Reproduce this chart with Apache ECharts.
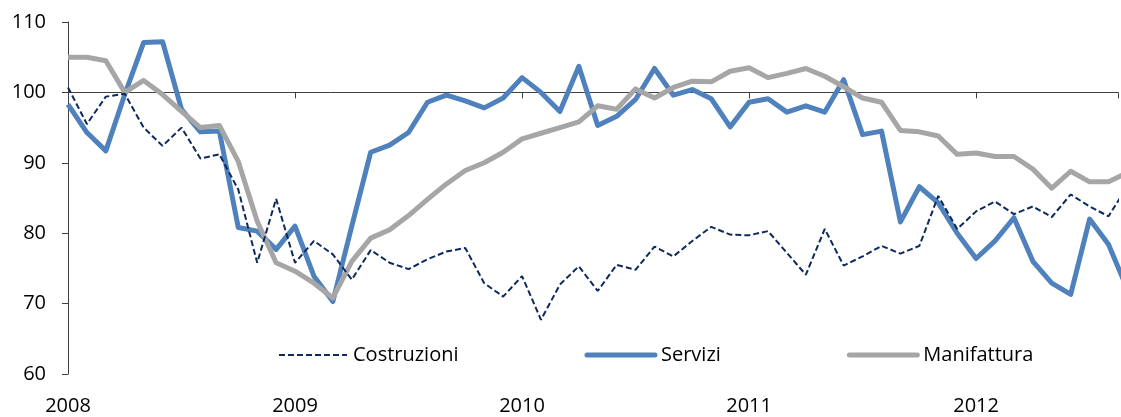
<!DOCTYPE html>
<html>
<head>
<meta charset="utf-8">
<script src="https://cdn.jsdelivr.net/npm/echarts@6/dist/echarts.min.js"></script>
<style>
  html, body { margin: 0; padding: 0; background: #fff; }
  #chart { width: 1121px; height: 417px; }
</style>
</head>
<body>
<div id="chart"></div>
<script>
// mesi da gen 2008 (indice 0) a set 2012 (indice 56)
const startYear = 2008;
const yearTicks = [0, 12, 24, 36, 48];

const costruzioni = [
  100.7, 95.5, 99.4, 99.8, 95.0, 92.4, 95.0, 90.6, 91.2, 86.2, 75.8, 84.9,
  75.8, 78.9, 77.0, 73.4, 77.6, 75.8, 74.9, 76.3, 77.4, 77.9, 72.9, 71.0,
  73.9, 67.7, 72.7, 75.3, 71.8, 75.5, 74.8, 78.1, 76.7, 78.9, 80.9, 79.8,
  79.7, 80.3, 77.2, 74.1, 80.6, 75.4, 76.7, 78.2, 77.1, 78.2, 85.3, 80.6,
  83.1, 84.5, 82.7, 83.8, 82.3, 85.5, 83.8, 82.4, 86.7
];
const servizi = [
  98.3, 94.3, 91.7, 99.7, 107.1, 107.2, 97.6, 94.4, 94.5, 80.8, 80.3, 77.7,
  81.0, 73.9, 70.3, 81.0, 91.5, 92.5, 94.3, 98.6, 99.6, 98.8, 97.8, 99.2,
  102.1, 100.0, 97.3, 103.7, 95.3, 96.6, 99.0, 103.4, 99.6, 100.4, 99.1, 95.1,
  98.6, 99.1, 97.2, 98.1, 97.2, 101.8, 94.0, 94.5, 81.6, 86.6, 84.3, 80.0,
  76.4, 78.9, 82.2, 76.0, 72.9, 71.3, 82.0, 78.4, 72.0
];
const manifattura = [
  105.0, 105.0, 104.5, 100.0, 101.7, 99.7, 97.3, 95.0, 95.3, 90.2, 81.7, 75.8,
  74.6, 72.9, 70.8, 76.0, 79.3, 80.5, 82.5, 84.8, 87.0, 88.9, 90.0, 91.5,
  93.4, 94.2, 95.0, 95.8, 98.1, 97.6, 100.5, 99.2, 100.7, 101.6, 101.5, 103.0,
  103.5, 102.1, 102.7, 103.4, 102.3, 100.8, 99.2, 98.6, 94.6, 94.4, 93.8, 91.2,
  91.4, 90.9, 90.9, 89.1, 86.4, 88.8, 87.3, 87.3, 88.6
];

const font = '"Open Sans", "DejaVu Sans", sans-serif';

function toPairs(arr) {
  return arr.map(function (v, i) { return [i, v]; });
}

const chart = echarts.init(document.getElementById('chart'), null, { renderer: 'canvas' });

chart.setOption({
  animation: false,
  backgroundColor: '#ffffff',
  textStyle: { fontFamily: font, color: '#000' },
  grid: { left: 68, right: 1, top: 22, bottom: 43, containLabel: false },
  legend: {
    left: 273,
    top: 340,
    itemWidth: 68,
    itemHeight: 16,
    itemGap: 126,
    itemStyle: { opacity: 0 },
    textStyle: { fontFamily: font, fontSize: 20, color: '#000', padding: [0, 0, 0, 1] },
    data: [
      { name: 'Costruzioni', lineStyle: { width: 2, type: [6, 3] } },
      { name: 'Servizi', lineStyle: { width: 5, cap: 'round' } },
      { name: 'Manifattura', lineStyle: { width: 5, cap: 'round' } }
    ]
  },
  xAxis: [
    {
      // etichette anni in basso
      type: 'value',
      position: 'bottom',
      min: 0,
      max: 55.5,
      interval: 12,
      splitLine: { show: false },
      axisLine: { show: false },
      axisTick: { show: false },
      axisLabel: {
        margin: 22,
        fontSize: 20,
        fontFamily: font,
        color: '#000',
        formatter: function (v) {
          return yearTicks.indexOf(v) >= 0 ? String(startYear + v / 12) : '';
        }
      }
    },
    {
      // linea dell'asse sul valore 100
      type: 'value',
      position: 'top',
      min: 0,
      max: 55.5,
      interval: 12,
      splitLine: { show: false },
      axisLine: {
        show: true,
        onZero: true,
        onZeroAxisIndex: 1,
        lineStyle: { color: '#404040', width: 1 }
      },
      axisTick: {
        show: true,
        inside: true,
        length: 6,
        lineStyle: { color: '#404040', width: 1 }
      },
      axisLabel: { show: false }
    }
  ],
  yAxis: [
    {
      type: 'value',
      min: 60,
      max: 110,
      interval: 10,
      splitLine: { show: false },
      axisLine: { show: true, lineStyle: { color: '#404040', width: 1 } },
      axisTick: { show: true, length: 6, lineStyle: { color: '#404040', width: 1 } },
      axisLabel: { margin: 22, fontSize: 20, fontFamily: font, color: '#000' }
    },
    {
      // asse nascosto spostato di 100, serve solo per onZero
      type: 'value',
      min: -40,
      max: 10,
      show: false
    }
  ],
  series: [
    {
      name: 'Costruzioni',
      type: 'line',
      data: toPairs(costruzioni),
      showSymbol: false,
      symbol: 'none',
      color: '#0d2a5c',
      lineStyle: { color: '#0d2a5c', width: 2, type: [6, 3] },
      z: 4
    },
    {
      name: 'Servizi',
      type: 'line',
      data: toPairs(servizi),
      showSymbol: false,
      symbol: 'none',
      color: '#4f81bd',
      lineStyle: { color: '#4f81bd', width: 5, join: 'round' },
      z: 2
    },
    {
      name: 'Manifattura',
      type: 'line',
      data: toPairs(manifattura),
      showSymbol: false,
      symbol: 'none',
      color: '#a6a6a6',
      lineStyle: { color: '#a6a6a6', width: 5, join: 'round' },
      z: 3
    }
  ]
});
</script>
</body>
</html>
